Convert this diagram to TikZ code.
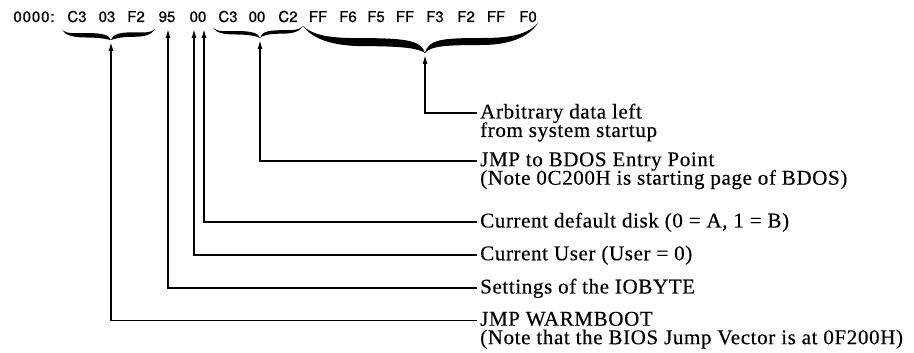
\documentclass[tikz,border=0pt]{standalone}
\usepackage{fontspec}
\setmainfont{Liberation Serif}
\newfontfamily\hexfont[FakeBold=0.6]{TeX Gyre Heros}
\newfontfamily\labfont[LetterSpace=3,FakeBold=0.4]{Liberation Serif}
\usetikzlibrary{arrows.meta}
% half of a hand-drawn brace: end (#1,#2), tip (#3,#4), body level #5 (fraction), thickness #6
\newcommand{\halfbrace}[6]{%
  \pgfmathsetmacro{\hbL}{#3-(#1)}%
  \pgfmathsetmacro{\hbH}{#4-(#2)}%
  \fill[black] (#1,#2)
    .. controls ({#1+0.1*\hbL},{#2+0.4*\hbH}) and ({#1+0.25*\hbL},{#2+#5*\hbH}) .. ({#1+0.5*\hbL},{#2+#5*\hbH})
    .. controls ({#1+0.85*\hbL},{#2+#5*\hbH}) and ({#1+0.97*\hbL},{#2+0.55*\hbH}) .. (#3,#4)
    .. controls ({#1+0.95*\hbL},{#2+0.55*\hbH+#6}) and ({#1+0.85*\hbL},{#2+#5*\hbH+#6}) .. ({#1+0.5*\hbL},{#2+#5*\hbH+#6})
    .. controls ({#1+0.25*\hbL},{#2+#5*\hbH+#6}) and ({#1+0.08*\hbL},{#2+0.35*\hbH+0.5*#6}) .. cycle;%
}
\newcommand{\firstline}{\rule{0pt}{14.5pt}}
\newcommand{\tightlines}{\lineskiplimit=-30pt\relax\lineskip=0pt\relax}
\begin{document}
\begin{tikzpicture}[x=1pt,y=-1pt,
  hex/.style={font=\hexfont\fontsize{15}{17}\selectfont, anchor=base, inner sep=0pt},
  lab/.style={font=\labfont\fontsize{21}{18.5}\selectfont,
              execute at begin node=\tightlines,
              anchor=north west, align=left, inner xsep=3pt, inner ysep=0pt},
  conn/.style={line width=1.4pt, -{Latex[length=9pt,width=5pt]}}]
\useasboundingbox (0,0) rectangle (914,353);

% hex dump row
\node[hex] (addr) at (34,22) {\addfontfeature{LetterSpace=6}0000:};
\node[hex] (b0) at (77,22) {C3};
\node[hex] (b1) at (107,22) {03};
\node[hex] (b2) at (136,22) {F2};
\node[hex] (b3) at (167,22) {95};
\node[hex] (b4) at (198,22) {00};
\node[hex] (b5) at (228,22) {C3};
\node[hex] (b6) at (257,22) {00};
\node[hex] (b7) at (288,22) {C2};
\node[hex] (b8) at (318,22) {FF};
\node[hex] (b9) at (348,22) {F6};
\node[hex] (b10) at (376,22) {F5};
\node[hex] (b11) at (405,22) {FF};
\node[hex] (b12) at (435,22) {F3};
\node[hex] (b13) at (466,22) {F2};
\node[hex] (b14) at (496,22) {FF};
\node[hex] (b15) at (528,22) {F0};

% braces
\halfbrace{62}{30}{111}{40}{0.3}{4.5}
\halfbrace{155}{29}{111}{40}{0.3}{4.5}
\halfbrace{213}{28}{260}{38}{0.3}{3.5}
\halfbrace{303}{26}{260}{38}{0.35}{3.5}
\halfbrace{303}{26}{425}{53}{0.45}{8}
\halfbrace{538}{23}{425}{53}{0.5}{7}

% arrow tips
\coordinate (t1) at (111,42);
\coordinate (t2) at (168,29);
\coordinate (t3) at (194,29);
\coordinate (t4) at (204,29);
\coordinate (t5) at (260,40);
\coordinate (t6) at (425,55);

% labels (first baseline = y + 14.5)
\node[lab] (l6) at (477,103.5) {\firstline Arbitrary data left\\from system startup};
\node[lab] (l5) at (477,151.5) {\firstline JMP to BDOS Entry Point\\(Note 0C200H is starting page of BDOS)};
\node[lab] (l4) at (477,212.5) {\firstline Current default disk (0 = A, 1 = B)};
\node[lab] (l3) at (477,245.5) {\firstline Current User (User = 0)};
\node[lab] (l2) at (477,278.5) {\firstline Settings of the IOBYTE};
\node[lab] (l1) at (477,311) {\firstline JMP WARMBOOT\\(Note that the BIOS Jump Vector is at 0F200H)};

% connectors
\draw[conn] ([yshift=-9.5pt]l6.north west) -| (t6);
\draw[conn] ([yshift=-9.5pt]l5.north west) -| (t5);
\draw[conn] ([yshift=-9.5pt]l4.north west) -| (t4);
\draw[conn] ([yshift=-9.5pt]l3.north west) -| (t3);
\draw[conn] ([yshift=-9.5pt]l2.north west) -| (t2);
\draw[conn] ([yshift=-9.5pt]l1.north west) -| (t1);
\end{tikzpicture}
\end{document}
